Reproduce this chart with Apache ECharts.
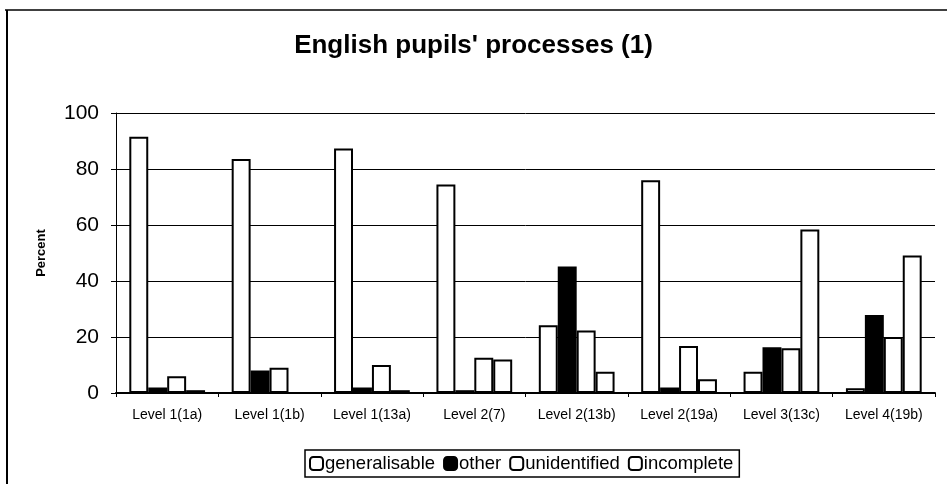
<!DOCTYPE html>
<html>
<head>
<meta charset="utf-8">
<script src="https://cdn.jsdelivr.net/npm/echarts@6/dist/echarts.min.js"></script>
<style>html,body{margin:0;padding:0;background:#fff;}#c{width:947px;height:484px;}</style>
</head>
<body>
<div id="c"></div>
<script>
var categories = ['Level 1(1a)', 'Level 1(1b)', 'Level 1(13a)', 'Level 2(7)', 'Level 2(13b)', 'Level 2(19a)', 'Level 3(13c)', 'Level 4(19b)'];
var generalisable = [91.5, 83.6, 87.3, 74.5, 24.2, 76, 7.6, 1.7];
var other = [2, 8, 2, 1, 45.2, 2, 16.3, 27.9];
var unidentified = [6, 9, 10, 12.6, 22.3, 16.8, 16, 20];
var incomplete = [1, 0, 1, 12, 7.6, 4.9, 58.4, 49.1];
var yTicks = [0, 20, 40, 60, 80, 100];

var font = 'Liberation Sans, Arial, sans-serif';
function barSeries(name, data, fill) {
  return {
    name: name, type: 'bar', data: data,
    barGap: '0%', barCategoryGap: '26%',
    itemStyle: { color: fill, borderColor: '#000', borderWidth: 2 },
    emphasis: { disabled: true }
  };
}
var chart = echarts.init(document.getElementById('c'), null, { renderer: 'canvas' });
chart.setOption({
  animation: false,
  backgroundColor: '#fff',
  title: {
    text: "English pupils' processes (1)",
    left: 'center', top: 28,
    textStyle: { fontFamily: font, fontSize: 26, fontWeight: 'bold', color: '#000' }
  },
  legend: {
    left: 305, top: 450,
    itemWidth: 13, itemHeight: 13, itemGap: 8,
    padding: [4, 6, 4, 4],
    borderColor: '#000', borderWidth: 1.5,
    textStyle: { fontFamily: font, fontSize: 18.5, color: '#000', padding: [0, 0, 0, -3] },
    data: ['generalisable', 'other', 'unidentified', 'incomplete']
  },
  grid: { left: 116, right: 12, top: 113, bottom: 91 },
  xAxis: {
    type: 'category', data: categories,
    axisLine: { lineStyle: { color: '#000', width: 2 } },
    axisTick: { show: true, length: 4, lineStyle: { color: '#000' } },
    axisLabel: { fontFamily: font, fontSize: 14, color: '#000', margin: 15 }
  },
  yAxis: {
    type: 'value', min: yTicks[0], max: yTicks[yTicks.length - 1], interval: yTicks[1] - yTicks[0],
    name: 'Percent', nameLocation: 'middle', nameGap: 68, nameRotate: 90,
    nameTextStyle: { fontFamily: font, fontSize: 13, fontWeight: 'bold', color: '#000' },
    axisLine: { show: true, lineStyle: { color: '#000', width: 1 } },
    axisTick: { show: true, length: 5, lineStyle: { color: '#000' } },
    axisLabel: { fontFamily: font, fontSize: 21, color: '#000', margin: 17 },
    splitLine: { show: true, lineStyle: { color: '#000', width: 1 } }
  },
  series: [
    barSeries('generalisable', generalisable, '#fff'),
    barSeries('other', other, '#000'),
    barSeries('unidentified', unidentified, '#fff'),
    barSeries('incomplete', incomplete, '#fff')
  ],
  graphic: [
    { type: 'line', shape: { x1: 5, y1: 10, x2: 947, y2: 10 }, style: { stroke: '#000', lineWidth: 1.5 } },
    { type: 'line', shape: { x1: 7, y1: 10, x2: 7, y2: 484 }, style: { stroke: '#000', lineWidth: 2 } }
  ]
});
</script>
</body>
</html>
